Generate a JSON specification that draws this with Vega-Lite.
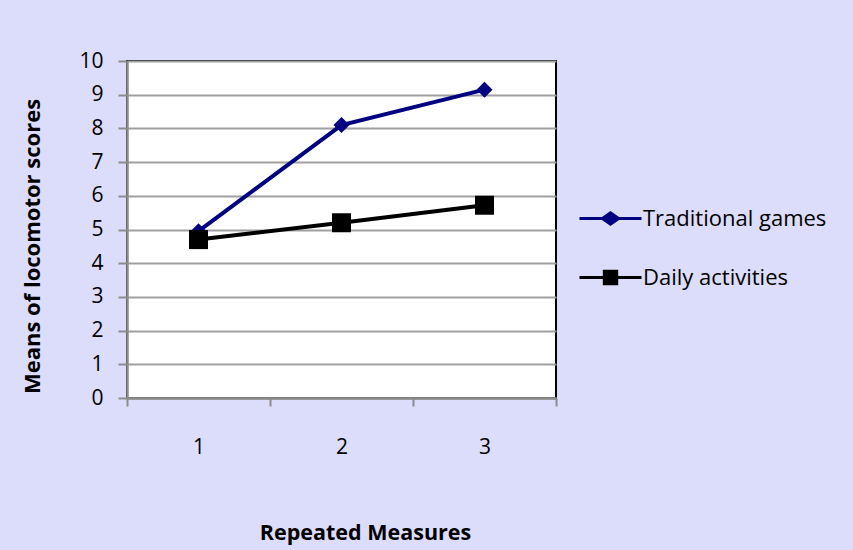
{
  "$schema": "https://vega.github.io/schema/vega-lite/v6.json",
  "width": 429,
  "height": 337,
  "autosize": {"type": "none"},
  "padding": {"left": 127, "top": 61, "right": 297, "bottom": 152},
  "background": "#DCDCFB",
  "config": {
    "font": "Open Sans",
    "view": {"fill": "#FFFFFF", "stroke": "#000000", "strokeWidth": 2}
  },
  "data": {
    "values": [
      {"measure": 1, "group": "Traditional games", "score": 4.95},
      {"measure": 2, "group": "Traditional games", "score": 8.1},
      {"measure": 3, "group": "Traditional games", "score": 9.15},
      {"measure": 1, "group": "Daily activities", "score": 4.7},
      {"measure": 2, "group": "Daily activities", "score": 5.2},
      {"measure": 3, "group": "Daily activities", "score": 5.72}
    ]
  },
  "encoding": {
    "x": {
      "field": "measure",
      "type": "quantitative",
      "scale": {"domain": [0.5, 3.5], "nice": false, "zero": false},
      "axis": {
        "title": "Repeated Measures",
        "values": [0.5, 1, 1.5, 2, 2.5, 3, 3.5],
        "labelExpr": "datum.value % 1 === 0 ? format(datum.value, 'd') : ''",
        "labelFontSize": 21,
        "labelColor": "#000000",
        "labelPadding": 30,
        "labelFlush": false,
        "labelOverlap": false,
        "tickSize": 8,
        "tickWidth": 2,
        "tickColor": "#8C8C8C",
        "tickOpacity": {"condition": {"test": "datum.value % 1 === 0", "value": 0}, "value": 1},
        "domainColor": "#8C8C8C",
        "domainWidth": 2.5,
        "grid": false,
        "titleFontSize": 21.5,
        "titleFontWeight": "bold",
        "titleColor": "#000000",
        "titlePadding": 65,
        "titleX": 238
      }
    },
    "y": {
      "field": "score",
      "type": "quantitative",
      "scale": {"domain": [0, 10], "nice": false},
      "axis": {
        "title": "Means of locomotor scores",
        "values": [0, 1, 2, 3, 4, 5, 6, 7, 8, 9, 10],
        "labelFontSize": 21,
        "labelColor": "#000000",
        "labelPadding": 15,
        "tickSize": 9,
        "tickWidth": 2,
        "tickColor": "#8C8C8C",
        "domainColor": "#8C8C8C",
        "domainWidth": 2.5,
        "grid": true,
        "gridColor": "#A0A0A0",
        "gridWidth": 2,
        "titleFontSize": 22,
        "titleFontWeight": "bold",
        "titleColor": "#000000",
        "titlePadding": 34,
        "titleY": 185
      }
    },
    "color": {
      "field": "group",
      "type": "nominal",
      "scale": {"domain": ["Traditional games", "Daily activities"], "range": ["#000080", "#000000"]},
      "legend": {
        "title": null,
        "orient": "none",
        "legendX": 451,
        "legendY": 125,
        "labelFontSize": 22,
        "labelColor": "#000000",
        "labelLimit": 400,
        "symbolSize": 3844,
        "symbolStrokeWidth": 3,
        "labelOffset": 0,
        "rowPadding": 14,
        "encode": {
          "symbols": {
            "update": {
              "shape": {"signal": "datum.value === 'Traditional games' ? 'M-1,0H1M-0.26,0L0,-0.18L0.26,0L0,0.18Z' : 'M-1,0H1M-0.2,-0.2H0.2V0.2H-0.2Z'"},
              "fill": {"signal": "datum.value === 'Traditional games' ? '#000080' : '#000000'"},
              "stroke": {"signal": "datum.value === 'Traditional games' ? '#000080' : '#000000'"},
              "strokeWidth": {"value": 3}
            }
          }
        }
      }
    }
  },
  "layer": [
    {"mark": {"type": "line", "strokeWidth": 4}},
    {
      "transform": [{"filter": "datum.group === 'Traditional games'"}],
      "mark": {"type": "point", "filled": true, "opacity": 1, "shape": "diamond", "size": 256}
    },
    {
      "transform": [{"filter": "datum.group === 'Daily activities'"}],
      "mark": {"type": "point", "filled": true, "opacity": 1, "shape": "square", "size": 361}
    }
  ]
}
